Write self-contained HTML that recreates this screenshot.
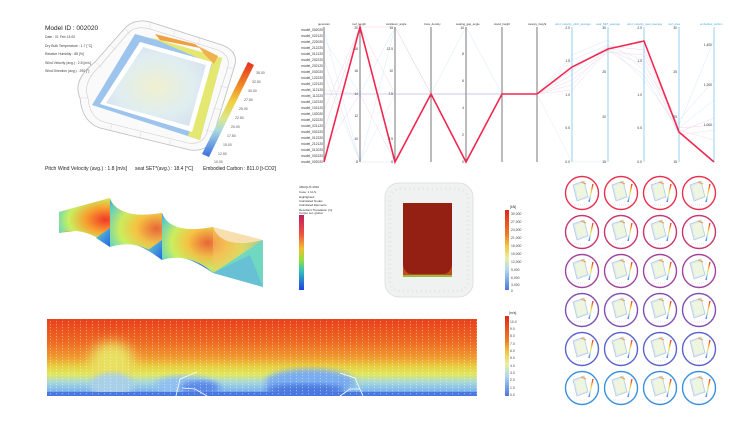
<!DOCTYPE html>
<html><head><meta charset="utf-8"><style>
html,body{margin:0;padding:0;background:#fff;width:750px;height:422px;overflow:hidden}
svg{display:block;font-family:"Liberation Sans",sans-serif}
</style></head><body>
<svg width="750" height="422" viewBox="0 0 750 422" xmlns="http://www.w3.org/2000/svg">
<defs>
<linearGradient id="cb1" x1="0" y1="0" x2="0" y2="1">
<stop offset="0" stop-color="#e8301c"/><stop offset="0.25" stop-color="#f08a28"/><stop offset="0.42" stop-color="#f0d040"/><stop offset="0.6" stop-color="#d8e890"/><stop offset="0.72" stop-color="#a8d8e0"/><stop offset="1" stop-color="#3a6ee0"/></linearGradient>
<linearGradient id="cbm" x1="0" y1="0" x2="0" y2="1">
<stop offset="0" stop-color="#c02060"/><stop offset="0.25" stop-color="#f05040"/><stop offset="0.45" stop-color="#f0c030"/><stop offset="0.6" stop-color="#90e040"/><stop offset="0.75" stop-color="#30c0c0"/><stop offset="1" stop-color="#2040e0"/></linearGradient>
<linearGradient id="cbk" x1="0" y1="0" x2="0" y2="1">
<stop offset="0" stop-color="#e02818"/><stop offset="0.3" stop-color="#f07a20"/><stop offset="0.45" stop-color="#f0c840"/><stop offset="0.6" stop-color="#e8f0a0"/><stop offset="0.75" stop-color="#b0d8f0"/><stop offset="1" stop-color="#4a78d8"/></linearGradient>
<linearGradient id="sec" x1="0" y1="0" x2="0" y2="1">
<stop offset="0" stop-color="#e8401c"/><stop offset="0.3" stop-color="#ee6a22"/><stop offset="0.5" stop-color="#f09a30"/><stop offset="0.62" stop-color="#e8d040"/><stop offset="0.72" stop-color="#e0e860"/><stop offset="0.82" stop-color="#a8d8d8"/><stop offset="0.93" stop-color="#80b8f0"/><stop offset="1" stop-color="#4070e0"/></linearGradient>
<radialGradient id="wave" cx="0.45" cy="0.35" r="0.65">
<stop offset="0" stop-color="#f03828"/><stop offset="0.3" stop-color="#f8a030"/><stop offset="0.55" stop-color="#c8f060"/><stop offset="0.8" stop-color="#50d0d0"/><stop offset="1" stop-color="#3070e8"/></radialGradient>
<radialGradient id="wave2" cx="0.45" cy="0.4" r="0.65">
<stop offset="0" stop-color="#f06030"/><stop offset="0.3" stop-color="#f8c040"/><stop offset="0.55" stop-color="#c8f060"/><stop offset="0.8" stop-color="#50d0d0"/><stop offset="1" stop-color="#3070e8"/></radialGradient>
<linearGradient id="side" x1="0" y1="0" x2="1" y2="1"><stop offset="0" stop-color="#60d8c8"/><stop offset="1" stop-color="#2860e8"/></linearGradient>
<radialGradient id="pitch" cx="0.5" cy="0.5" r="0.6"><stop offset="0" stop-color="#f0f0d0"/><stop offset="0.6" stop-color="#e0eef0"/><stop offset="1" stop-color="#d8e0f0"/></radialGradient>
<pattern id="dots" width="6" height="3" patternUnits="userSpaceOnUse"><rect x="2" y="0" width="1" height="1.2" fill="#fff" opacity="0.4"/></pattern>
<filter id="bl" x="-50%" y="-50%" width="200%" height="200%"><feGaussianBlur stdDeviation="6"/></filter>
<filter id="bl2"><feGaussianBlur stdDeviation="3"/></filter>
<clipPath id="secclip"><rect x="47" y="319" width="430" height="77"/></clipPath>
<g id="thumb">
<polygon points="-9,-8 2,-12 6,4 -5,8" fill="#dde9f4" stroke="#b8cce0" stroke-width="0.8"/>
<polygon points="-7,-7 2,-10 5,3 -4,6" fill="#eef6e0"/>
<line x1="-1" y1="-11" x2="4" y2="-9" stroke="#f0a040" stroke-width="1.2"/>
<line x1="11" y1="-9" x2="7" y2="9" stroke="url(#cb1)" stroke-width="1.3"/>
<line x1="-8" y1="12" x2="6" y2="12" stroke="#ccc" stroke-width="0.6" stroke-dasharray="1,1"/>
</g>
</defs>

<!-- TOP LEFT STADIUM -->
<g>
<path d="M80,98 Q72,80 95,62 L125,28 Q135,18 150,22 L222,45 Q240,52 234,68 L212,140 Q206,152 190,150 L100,128 Q82,122 80,98Z" fill="#fafafa" stroke="#bbb" stroke-width="0.8"/>
<path d="M88,98 Q82,82 100,66 L128,33 Q136,25 150,29 L218,50 Q232,56 227,70 L206,135 Q201,145 188,143 L104,122 Q90,118 88,98Z" fill="none" stroke="#ccc" stroke-width="0.6"/>
<g stroke="#d0d0d0" stroke-width="0.4">
<line x1="95" y1="62" x2="102" y2="68"/><line x1="110" y1="45" x2="116" y2="50"/><line x1="125" y1="28" x2="130" y2="35"/><line x1="150" y1="22" x2="150" y2="30"/><line x1="175" y1="30" x2="173" y2="37"/><line x1="200" y1="38" x2="198" y2="45"/><line x1="234" y1="68" x2="226" y2="68"/><line x1="228" y1="88" x2="220" y2="86"/><line x1="221" y1="110" x2="213" y2="108"/><line x1="214" y1="132" x2="206" y2="130"/><line x1="170" y1="146" x2="170" y2="140"/><line x1="140" y1="139" x2="141" y2="132"/><line x1="110" y1="131" x2="112" y2="124"/><line x1="80" y1="98" x2="88" y2="98"/>
</g>
<polygon points="92,105 135,34 222,58 200,140" fill="#9cc4ec"/>
<polygon points="150,37 222,58 200,140 188,136 212,64" fill="#e4e870"/>
<polygon points="155,34 195,44 200,48 160,40" fill="#f0a040"/>
<polygon points="198,46 218,56 214,64 205,55" fill="#f0b050"/>
<polygon points="100,104 140,42 212,62 192,132" fill="#fff"/>
<polygon points="106,103 143,47 206,65 189,126" fill="url(#pitch)"/>
<text x="45" y="30" font-size="6.5" fill="#222">Model ID : 002020</text>
<g font-size="3.4" fill="#444">
<text x="45" y="38">Date : 01 Feb 13:00</text>
<text x="45" y="47">Dry Bulb Temperature : 1.7 [°C]</text>
<text x="45" y="55">Relative Humidity : 88 [%]</text>
<text x="45" y="64">Wind Velocity (avg.) : 2.8 [m/s]</text>
<text x="45" y="72">Wind Direction (avg.) : 290 [°]</text>
</g>
<polygon points="248,62 254,65 209,157 202,154" fill="url(#cb1)"/>
<g font-size="3.5" fill="#555">
<text x="256" y="74">35.00</text><text x="252" y="83">32.50</text><text x="248" y="92">30.00</text><text x="244" y="101">27.50</text><text x="239" y="110">25.00</text><text x="235" y="119">22.50</text><text x="231" y="128">20.00</text><text x="227" y="137">17.50</text><text x="223" y="146">15.00</text><text x="218" y="155">12.50</text><text x="214" y="163">10.00</text>
</g>
<g font-size="5" fill="#222">
<text x="45" y="170" textLength="82" lengthAdjust="spacingAndGlyphs">Pitch Wind Velocity (avg.) : 1.8 [m/s]</text>
<text x="135" y="170" textLength="58" lengthAdjust="spacingAndGlyphs">seat SET*(avg.) : 18.4 [°C]</text>
<text x="203" y="170" textLength="73" lengthAdjust="spacingAndGlyphs">Embodied Carbon : 811.0 [t-CO2]</text>
</g>
</g>

<!-- PARALLEL COORDINATES -->
<g>
<g stroke-width="0.5" fill="none" opacity="0.35">
<polyline points="324,30 360,162 395,27 431,94 466,27 502,94 537,94 572,55 608,40 644,70 679,125 714,40" stroke="#8ac0e8"/>
<polyline points="324,40 360,94 395,27 431,94 466,94 502,94 537,94 572,60 608,45 644,80 679,128 714,100" stroke="#8ac0e8"/>
<polyline points="324,60 360,162 395,162 431,94 466,94 502,94 537,94 572,75 608,50 644,65 679,120 714,80" stroke="#a0a0e0"/>
<polyline points="324,90 360,94 395,94 431,94 466,94 502,94 537,94 572,80 608,52 644,55 679,130 714,140" stroke="#e890b8"/>
<polyline points="324,110 360,27 395,94 431,94 466,162 502,94 537,94 572,85 608,47 644,60 679,135 714,130" stroke="#e890b8"/>
<polyline points="324,130 360,27 395,27 431,94 466,94 502,94 537,94 572,70 608,46 644,50 679,128 714,125" stroke="#e870a8"/>
<polyline points="324,150 360,94 395,162 431,94 466,94 502,94 537,94 572,90 608,50 644,75 679,132 714,118" stroke="#c090d0"/>
<polyline points="324,75 360,162 395,94 431,94 466,94 502,94 537,94 572,162 608,162" stroke="#a0c8e8"/>
</g>
<g stroke="#555" stroke-width="0.8">
<line x1="324" y1="27" x2="324" y2="162"/><line x1="360" y1="27" x2="360" y2="162"/><line x1="395" y1="27" x2="395" y2="162"/><line x1="431" y1="27" x2="431" y2="162"/><line x1="466" y1="27" x2="466" y2="162"/><line x1="502" y1="27" x2="502" y2="162"/><line x1="537" y1="27" x2="537" y2="162"/>
</g>
<g stroke="#7cc4ec" stroke-width="0.8">
<line x1="572" y1="27" x2="572" y2="162"/><line x1="608" y1="27" x2="608" y2="162"/><line x1="644" y1="27" x2="644" y2="162"/><line x1="679" y1="27" x2="679" y2="162"/><line x1="714" y1="27" x2="714" y2="162"/>
</g>
<line x1="324" y1="94" x2="537" y2="94" stroke="#b0b0e0" stroke-width="0.5"/>
<polyline points="324,162 360,27 395,162 431,94 466,162 502,94 537,94 572,67 608,49 644,41 679,132 714,162" fill="none" stroke="#f02850" stroke-width="1.6"/>
<g font-size="2.8" fill="#333">
<text x="318" y="25">generator</text><text x="352" y="25">roof_length</text><text x="386" y="25">cantilever_angle</text><text x="424" y="25">truss_density</text><text x="456" y="25">seating_gap_angle</text><text x="494" y="25">stand_height</text><text x="528" y="25">canopy_height</text>
</g>
<g font-size="2.8" fill="#4aa8e0">
<text x="555" y="25">wind_velocity_pitch_average</text><text x="596" y="25">seat_SET_average</text><text x="627" y="25">wind_velocity_seat_average</text><text x="668" y="25">roof_area</text><text x="700" y="25">embodied_carbon</text>
</g>
<g font-size="3.3" fill="#333" text-anchor="end">
<text x="323" y="31">model_002020</text><text x="323" y="37">model_022120</text><text x="323" y="43">model_222020</text><text x="323" y="49">model_212220</text><text x="323" y="55">model_012120</text><text x="323" y="61">model_202220</text><text x="323" y="67">model_202120</text><text x="323" y="73">model_002020</text><text x="323" y="79">model_122220</text><text x="323" y="85">model_122120</text><text x="323" y="91">model_112120</text><text x="323" y="97">model_112220</text><text x="323" y="103">model_102220</text><text x="323" y="109">model_102120</text><text x="323" y="115">model_102020</text><text x="323" y="121">model_022220</text><text x="323" y="127">model_021120</text><text x="323" y="133">model_002220</text><text x="323" y="139">model_012220</text><text x="323" y="145">model_212120</text><text x="323" y="151">model_012020</text><text x="323" y="157">model_002220</text><text x="323" y="163">model_002020</text>
<text x="358" y="29">20</text><text x="358" y="50">18</text><text x="358" y="72">16</text><text x="358" y="95">14</text><text x="358" y="117">12</text><text x="358" y="140">10</text><text x="358" y="163">8</text>
<text x="393" y="29">15</text><text x="393" y="50">12.5</text><text x="393" y="72">10</text><text x="393" y="95">7.5</text><text x="393" y="140">2.5</text><text x="393" y="163">0</text>
<text x="464" y="29">10</text><text x="464" y="55">8</text><text x="464" y="82">6</text><text x="464" y="109">4</text><text x="464" y="136">2</text><text x="464" y="163">0</text>
<text x="570" y="29">2.0</text><text x="570" y="62">1.5</text><text x="570" y="96">1.0</text><text x="570" y="129">0.5</text><text x="570" y="163">0.0</text>
<text x="606" y="29">30</text><text x="606" y="73">25</text><text x="606" y="118">20</text><text x="606" y="163">15</text>
<text x="642" y="29">2.0</text><text x="642" y="62">1.5</text><text x="642" y="96">1.0</text><text x="642" y="129">0.5</text><text x="642" y="163">0.0</text>
<text x="677" y="29">30</text><text x="677" y="73">25</text><text x="677" y="118">20</text><text x="677" y="163">15</text>
<text x="712" y="46">1,400</text><text x="712" y="86">1,200</text><text x="712" y="126">1,000</text>
</g>
</g>

<!-- WAVE ROOF -->
<g>
<polygon points="59,212 110,198 113,226 59,233" fill="#f0a040"/>
<path d="M59,212 L110,198 Q118,220 162,213 L162,260 Q130,235 110,247 Q85,225 59,233Z" fill="url(#wave)"/>
<path d="M110,225 L110,199 Q118,220 162,213 Q170,235 213,227 L213,273 Q180,250 162,260 Q140,238 110,247Z" fill="url(#wave2)" opacity="0.95"/>
<path d="M162,240 L162,213 Q170,235 213,227 Q222,250 263,240 L263,287 Q235,265 213,273 Q190,252 162,260Z" fill="url(#wave2)" opacity="0.95"/>
<polygon points="110,247 110,228 96,238" fill="url(#side)"/>
<polygon points="162,260 162,240 148,250" fill="url(#side)"/>
<polygon points="213,273 263,240 263,287" fill="#70d8c0"/>
<polygon points="213,273 250,255 263,287" fill="#60b0e0" opacity="0.6"/>
<polygon points="213,227 263,240 213,273" fill="#f0c060" opacity="0.5"/>
</g>

<!-- MIDDLE COLORBAR + TEXT -->
<g font-size="3" fill="#333">
<text x="299" y="188">ABAQUS 2020</text><text x="299" y="193">Case: 1 ULS</text><text x="299" y="198">Highlighted:</text><text x="299" y="202">Calculated Nodes</text><text x="299" y="206">Calculated Elements</text><text x="299" y="211">Resultant Translation [m]</text><text x="299" y="214">Output set: global</text>
</g>
<rect x="299" y="215" width="5" height="75" fill="url(#cbm)"/>

<!-- CENTER STADIUM -->
<rect x="385" y="183" width="88" height="114" rx="14" fill="#f0f2f2" stroke="#d8dcdc" stroke-width="0.8"/>
<rect x="390" y="189" width="78" height="102" rx="10" fill="none" stroke="#e4e8e8" stroke-width="3" stroke-dasharray="1.5,3"/>
<rect x="403" y="203" width="49" height="74" fill="#8c1c10"/>
<rect x="403" y="203" width="49" height="74" fill="#a02818" opacity="0.4"/>
<path d="M403,265 Q405,274 412,274 L443,274 Q450,274 452,265 L452,277 L403,277Z" fill="#c84820"/>
<rect x="403" y="275" width="49" height="2" fill="#90c040"/>
<text x="510" y="208" font-size="3.5" fill="#333">[kN]</text>
<rect x="505" y="210" width="4" height="80" fill="url(#cbk)"/>
<g font-size="3.4" fill="#444">
<text x="511" y="215">30,000</text><text x="511" y="223">27,000</text><text x="511" y="231">24,000</text><text x="511" y="239">21,000</text><text x="511" y="247">18,000</text><text x="511" y="255">15,000</text><text x="511" y="263">12,000</text><text x="511" y="271">9,000</text><text x="511" y="279">6,000</text><text x="511" y="286">3,000</text><text x="511" y="292">0</text>
</g>

<!-- SECTION HEATMAP -->
<g clip-path="url(#secclip)">
<rect x="47" y="319" width="430" height="77" fill="url(#sec)"/>
<ellipse cx="112" cy="362" rx="22" ry="20" fill="#e8e060" filter="url(#bl)"/>
<ellipse cx="112" cy="385" rx="22" ry="12" fill="#a8d0e8" filter="url(#bl2)"/>
<ellipse cx="185" cy="385" rx="30" ry="9" fill="#90c0f0" filter="url(#bl2)"/>
<ellipse cx="310" cy="382" rx="45" ry="13" fill="#7aacf0" filter="url(#bl2)"/>
<ellipse cx="200" cy="388" rx="20" ry="7" fill="#5a88e8" filter="url(#bl2)"/>
<ellipse cx="305" cy="390" rx="40" ry="6" fill="#4a78e0" filter="url(#bl2)"/>
<rect x="47" y="392" width="430" height="4" fill="#4a78e0"/>
<rect x="47" y="319" width="430" height="77" fill="url(#dots)"/>
<g stroke="#fff" stroke-width="0.8" fill="none">
<polyline points="176,396 180,379 197,372"/><polyline points="182,388 195,389 207,396"/>
<polyline points="340,396 350,389 360,389"/><polyline points="340,373 355,378 363,396"/>
</g>
</g>
<text x="509" y="314" font-size="3.4" fill="#333">[m/s]</text>
<rect x="505" y="316" width="4" height="80" fill="url(#cbk)"/>
<g font-size="3.4" fill="#444">
<text x="510" y="323">10.0</text><text x="510" y="330">9.0</text><text x="510" y="337">8.0</text><text x="510" y="345">7.0</text><text x="510" y="352">6.0</text><text x="510" y="359">5.0</text><text x="510" y="367">4.0</text><text x="510" y="374">3.0</text><text x="510" y="381">2.0</text><text x="510" y="389">1.0</text><text x="510" y="396">0.0</text>
</g>

<!-- CIRCLE GRID -->
<g fill="#fff" stroke-width="1.4">
<g stroke="#e8304f"><circle cx="582" cy="193" r="16.5"/><circle cx="621" cy="193" r="16.5"/><circle cx="660" cy="193" r="16.5"/><circle cx="699" cy="193" r="16.5"/></g>
<g stroke="#c83670"><circle cx="582" cy="232" r="16.5"/><circle cx="621" cy="232" r="16.5"/><circle cx="660" cy="232" r="16.5"/><circle cx="699" cy="232" r="16.5"/></g>
<g stroke="#a044a0"><circle cx="582" cy="271" r="16.5"/><circle cx="621" cy="271" r="16.5"/><circle cx="660" cy="271" r="16.5"/><circle cx="699" cy="271" r="16.5"/></g>
<g stroke="#8050b4"><circle cx="582" cy="310" r="16.5"/><circle cx="621" cy="310" r="16.5"/><circle cx="660" cy="310" r="16.5"/><circle cx="699" cy="310" r="16.5"/></g>
<g stroke="#5a64cc"><circle cx="582" cy="349" r="16.5"/><circle cx="621" cy="349" r="16.5"/><circle cx="660" cy="349" r="16.5"/><circle cx="699" cy="349" r="16.5"/></g>
<g stroke="#3a90e0"><circle cx="582" cy="388" r="16.5"/><circle cx="621" cy="388" r="16.5"/><circle cx="660" cy="388" r="16.5"/><circle cx="699" cy="388" r="16.5"/></g>
</g>
<g>
<use href="#thumb" x="582" y="193"/><use href="#thumb" x="621" y="193"/><use href="#thumb" x="660" y="193"/><use href="#thumb" x="699" y="193"/>
<use href="#thumb" x="582" y="232"/><use href="#thumb" x="621" y="232"/><use href="#thumb" x="660" y="232"/><use href="#thumb" x="699" y="232"/>
<use href="#thumb" x="582" y="271"/><use href="#thumb" x="621" y="271"/><use href="#thumb" x="660" y="271"/><use href="#thumb" x="699" y="271"/>
<use href="#thumb" x="582" y="310"/><use href="#thumb" x="621" y="310"/><use href="#thumb" x="660" y="310"/><use href="#thumb" x="699" y="310"/>
<use href="#thumb" x="582" y="349"/><use href="#thumb" x="621" y="349"/><use href="#thumb" x="660" y="349"/><use href="#thumb" x="699" y="349"/>
<use href="#thumb" x="582" y="388"/><use href="#thumb" x="621" y="388"/><use href="#thumb" x="660" y="388"/><use href="#thumb" x="699" y="388"/>
</g>
</svg>
</body></html>
